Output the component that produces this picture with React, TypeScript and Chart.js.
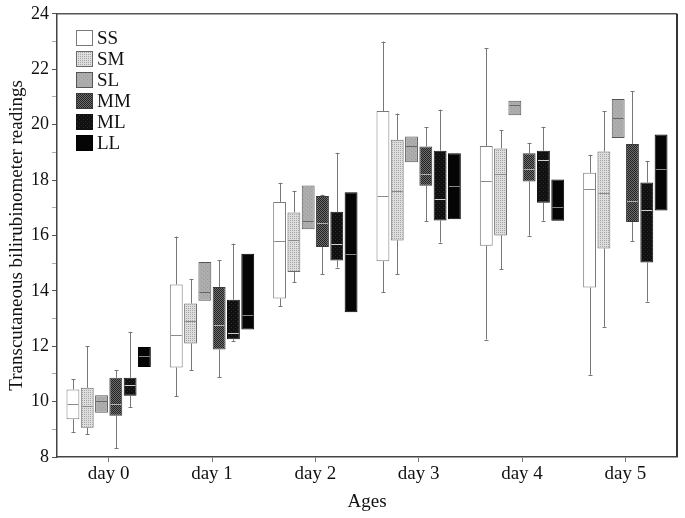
import React, { useEffect, useRef } from "react";
import { Chart, registerables } from "chart.js";

Chart.register(...registerables);

const days = ["day 0", "day 1", "day 2", "day 3", "day 4", "day 5"];
const seriesNames = ["SS", "SM", "SL", "MM", "ML", "LL"];

// [min, q1, median, q3, max] per day (null = no whisker)
const SS = [
  [8.91, 9.36, 9.91, 10.44, 10.81],
  [10.2, 11.23, 12.4, 14.23, 15.96],
  [13.44, 13.72, 15.8, 17.21, 17.9],
  [13.94, 15.07, 17.44, 20.49, 23.0],
  [12.24, 15.63, 17.98, 19.23, 22.76],
  [10.97, 14.12, 17.67, 18.26, 18.91],
];
const SM = [
  [8.82, 9.06, 9.84, 10.5, 12.0],
  [11.14, 12.1, 12.9, 13.54, 14.43],
  [14.3, 14.68, 15.82, 16.83, 17.61],
  [14.59, 15.82, 17.61, 19.45, 20.4],
  [14.77, 16.0, 18.21, 19.14, 19.79],
  [12.7, 15.53, 17.54, 19.03, 20.49],
];
const SL = [
  [null, 9.6, 10.02, 10.23, null],
  [null, 13.64, 13.95, 15.04, null],
  [null, 16.22, 16.53, 17.8, null],
  [null, 18.64, 19.23, 19.57, null],
  [null, 20.34, 20.71, 20.86, null],
  [null, 19.52, 20.24, 20.92, null],
];
const MM = [
  [8.31, 9.49, 9.9, 10.86, 11.14],
  [10.89, 11.88, 12.76, 14.14, 15.1],
  [14.59, 15.58, 16.45, 17.42, 17.47],
  [16.52, 17.79, 18.21, 19.21, 19.9],
  [15.99, 17.95, 18.41, 18.97, 19.34],
  [15.8, 16.48, 17.23, 19.3, 21.2],
];
const ML = [
  [9.81, 10.21, 10.59, 10.86, 12.52],
  [12.19, 12.25, 12.48, 13.68, 15.7],
  [14.84, 15.09, 15.68, 16.85, 18.98],
  [15.74, 16.54, 17.3, 19.06, 20.54],
  [16.53, 17.18, 18.73, 19.06, 19.92],
  [13.61, 15.02, 16.93, 17.91, 18.69],
];
const LL = [
  [null, 11.25, 11.64, 11.97, null],
  [null, 12.6, 13.12, 15.34, null],
  [null, 13.23, 15.34, 17.56, null],
  [null, 16.58, 17.78, 18.97, null],
  [null, 16.53, 17.01, 18.02, null],
  [null, 16.9, 18.39, 19.64, null],
];
const allSeries = [SS, SM, SL, MM, ML, LL];

const yTicks = [8, 10, 12, 14, 16, 18, 20, 22, 24];

const SERIF = "'Liberation Serif', 'Times New Roman', serif";

function makePattern(fg: string, bg: string, kind: string): CanvasPattern | string {
  const c = document.createElement("canvas");
  c.width = 4;
  c.height = 4;
  const g = c.getContext("2d");
  if (!g) return bg;
  g.fillStyle = bg;
  g.fillRect(0, 0, 4, 4);
  g.fillStyle = fg;
  if (kind === "dots") {
    for (let i = 0; i < 4; i += 2) for (let j = 0; j < 4; j += 2) g.fillRect(i, j, 1, 1);
  } else if (kind === "check") {
    for (let i = 0; i < 4; i++)
      for (let j = 0; j < 4; j++) if ((i + j) % 2 === 0) g.fillRect(i, j, 1, 1);
  } else if (kind === "sparse") {
    g.fillRect(1, 1, 1, 1);
    g.fillRect(3, 3, 1, 1);
  }
  const p = g.createPattern(c, "repeat");
  return p || bg;
}

export default function App() {
  const ref = useRef<HTMLCanvasElement>(null);

  useEffect(() => {
    if (!ref.current) return;
    const fills = [
      "#ffffff",
      makePattern("#a4a4a4", "#dedede", "dots"),
      makePattern("#9e9e9e", "#adadad", "sparse"),
      makePattern("#222222", "#6e6e6e", "check"),
      makePattern("#2c2c2c", "#101010", "sparse"),
      "#050505",
    ];
    const borders = ["#7a7a7a", "#6a6a6a", "#555555", "#3a3a3a", "#111111", "#000000"];
    const medianColors = ["#8a8a8a", "#8a8a8a", "#666666", "#b0b0b0", "#cfcfcf", "#888888"];

    const datasets = seriesNames.map((name, si) => ({
      label: name,
      data: allSeries[si].map((d) => [d[1], d[3]]),
      backgroundColor: fills[si],
      borderColor: borders[si],
      borderWidth: 1,
      borderSkipped: false,
      categoryPercentage: 0.83,
      barPercentage: 0.9,
    }));

    const boxPlugin = {
      id: "boxplot",
      beforeDatasetsDraw(chart: any) {
        const ctx = chart.ctx;
        const y = chart.scales.y;
        ctx.save();
        ctx.strokeStyle = "#777";
        ctx.lineWidth = 1;
        chart.data.datasets.forEach((_ds: any, si: number) => {
          const meta = chart.getDatasetMeta(si);
          meta.data.forEach((bar: any, di: number) => {
            const d = allSeries[si][di];
            const x = Math.round(bar.x) + 0.5;
            const segs: [number | null, number][] = [
              [d[0], d[1] as number],
              [d[4], d[3] as number],
            ];
            segs.forEach(([end, start]) => {
              if (end === null || end === undefined) return;
              const py1 = y.getPixelForValue(start);
              const py2 = y.getPixelForValue(end);
              ctx.beginPath();
              ctx.moveTo(x, py1);
              ctx.lineTo(x, py2);
              ctx.stroke();
              ctx.beginPath();
              ctx.moveTo(x - 2, Math.round(py2) + 0.5);
              ctx.lineTo(x + 2, Math.round(py2) + 0.5);
              ctx.stroke();
            });
          });
        });
        ctx.restore();
      },
      afterDatasetsDraw(chart: any) {
        const ctx = chart.ctx;
        const y = chart.scales.y;
        ctx.save();
        ctx.lineWidth = 1;
        chart.data.datasets.forEach((_ds: any, si: number) => {
          const meta = chart.getDatasetMeta(si);
          ctx.strokeStyle = medianColors[si];
          meta.data.forEach((bar: any, di: number) => {
            const d = allSeries[si][di];
            const py = Math.round(y.getPixelForValue(d[2] as number)) + 0.5;
            ctx.beginPath();
            ctx.moveTo(bar.x - bar.width / 2 + 1, py);
            ctx.lineTo(bar.x + bar.width / 2 - 1, py);
            ctx.stroke();
          });
        });
        ctx.restore();
      },
      afterDraw(chart: any) {
        const ctx = chart.ctx;
        const a = chart.chartArea;
        ctx.save();
        ctx.strokeStyle = "#555";
        ctx.lineWidth = 1.5;
        ctx.beginPath();
        ctx.moveTo(a.left, a.top);
        ctx.lineTo(a.right, a.top);
        ctx.stroke();
        ctx.strokeStyle = "#333";
        ctx.lineWidth = 2;
        ctx.beginPath();
        ctx.moveTo(a.right, a.top);
        ctx.lineTo(a.right, a.bottom);
        ctx.stroke();
        // legend
        const lx = 76;
        const ly = 30;
        ctx.font = `19px ${SERIF}`;
        ctx.textBaseline = "middle";
        ctx.textAlign = "left";
        seriesNames.forEach((name, i) => {
          const top = ly + i * 21;
          ctx.fillStyle = fills[i] as any;
          ctx.fillRect(lx, top, 17, 16);
          ctx.strokeStyle = borders[i];
          ctx.lineWidth = 1;
          ctx.strokeRect(lx + 0.5, top + 0.5, 16, 15);
          ctx.fillStyle = "#111";
          ctx.fillText(name, lx + 21, top + 9);
        });
        ctx.restore();
      },
    };

    const chart = new Chart(ref.current, {
      type: "bar",
      data: { labels: days, datasets: datasets as any },
      options: {
        animation: false,
        responsive: true,
        maintainAspectRatio: false,
        layout: { padding: { left: 0, right: 8, top: 13, bottom: 0 } },
        plugins: {
          legend: { display: false },
          tooltip: { enabled: false },
        },
        scales: {
          x: {
            type: "category",
            offset: true,
            grid: {
              display: true,
              drawOnChartArea: false,
              offset: false,
              tickLength: 5,
              color: "#777",
            },
            border: { display: true, color: "#444", width: 1.5 },
            ticks: {
              color: "#111",
              font: { family: SERIF, size: 19 },
              padding: 1,
              maxRotation: 0,
            },
            title: {
              display: true,
              text: "Ages",
              color: "#111",
              font: { family: SERIF, size: 19 },
              padding: { top: 0, bottom: 5 },
            },
            afterFit(scale: any) {
              scale.height = 61;
            },
          },
          y: {
            min: 8,
            max: 24,
            grid: {
              display: true,
              drawOnChartArea: false,
              tickLength: 5,
              color: (c: any) => (c.tick && c.tick.value % 2 === 0 ? "#555" : "#aaa"),
            },
            border: { display: true, color: "#444", width: 1.5 },
            ticks: {
              stepSize: 1,
              color: "#111",
              font: { family: SERIF, size: 18 },
              padding: 3,
              callback: (v: any) => (yTicks.includes(Number(v)) ? String(v) : ""),
            },
            title: {
              display: true,
              text: "Transcutaneous bilirubinometer readings",
              color: "#111",
              font: { family: SERIF, size: 19 },
              padding: { top: 6, bottom: 0 },
            },
            afterFit(scale: any) {
              scale.width = 57;
            },
          },
        },
      },
      plugins: [boxPlugin],
    });
    return () => chart.destroy();
  }, []);

  return (
    <div style={{ position: "fixed", left: 0, top: 0, width: 685, height: 518, background: "#fff" }}>
      <canvas ref={ref} />
    </div>
  );
}
